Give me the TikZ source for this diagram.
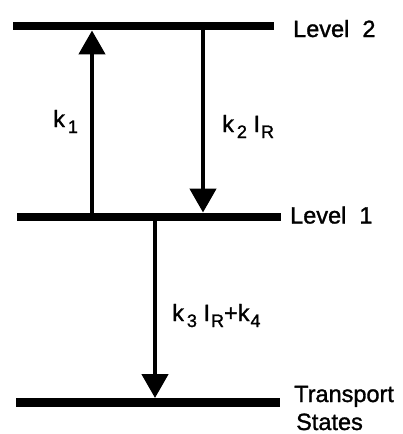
\documentclass[tikz,border=0pt]{standalone}
\usepackage{fontspec}
\setmainfont[FakeBold=1.3]{Liberation Sans}
\usetikzlibrary{arrows.meta}
\newcommand{\lowidx}[2][3pt]{\hspace{#1}\raisebox{-6pt}{\fontsize{18}{20}\selectfont #2}}
\tikzset{
	bar/.style = {fill=black, inner sep=0pt, minimum height=8.5pt},
	trans/.style = {line width=4.5pt, -{Triangle[width=26pt,length=24pt]}},
	lbl/.style = {inner sep=0pt, anchor=base west, font=\fontsize{23.5}{28}\selectfont}
}
\begin{document}
\begin{tikzpicture}[x=1pt,y=-1pt]
		\useasboundingbox (0,0) rectangle (402,434);
		% energy levels
		\node (lvtwo)[bar, minimum width=261pt] at (143.5,26) {};
		\node (lvone)[bar, minimum width=264pt] at (149,217) {};
		\node (tstates)[bar, minimum width=264pt] at (148,402.5) {};
		\node (lvtwolbl)[lbl] at (293,37) {Level\ \ 2};
		\node (lvonelbl)[lbl] at (290,223.5) {Level\ \ 1};
		\node (translbl)[lbl] at (294,402) {Transport};
		\node (stateslbl)[lbl] at (296,430) {States};
		%
		\coordinate (aone) at (92,0);
		\coordinate (atwo) at (203,0);
		\coordinate (athree) at (155,0);
		\draw[trans] (lvone.north -| aone) -- (lvtwo.south -| aone);
		\draw[trans] (lvtwo.south -| atwo) -- (lvone.north -| atwo);
		\draw[trans] (lvone.south -| athree) -- (tstates.north -| athree);
		%
		\node (kone)[lbl] at (53,127) {k\lowidx{1}};
		\node (ktwo)[lbl] at (222,132) {k\lowidx{2}\ I\lowidx[1pt]{R}};
		\node (kthree)[lbl] at (172,321) {k\lowidx{3}\ I\lowidx[1pt]{R}+k\lowidx[1pt]{4}};
	\end{tikzpicture}
\end{document}
